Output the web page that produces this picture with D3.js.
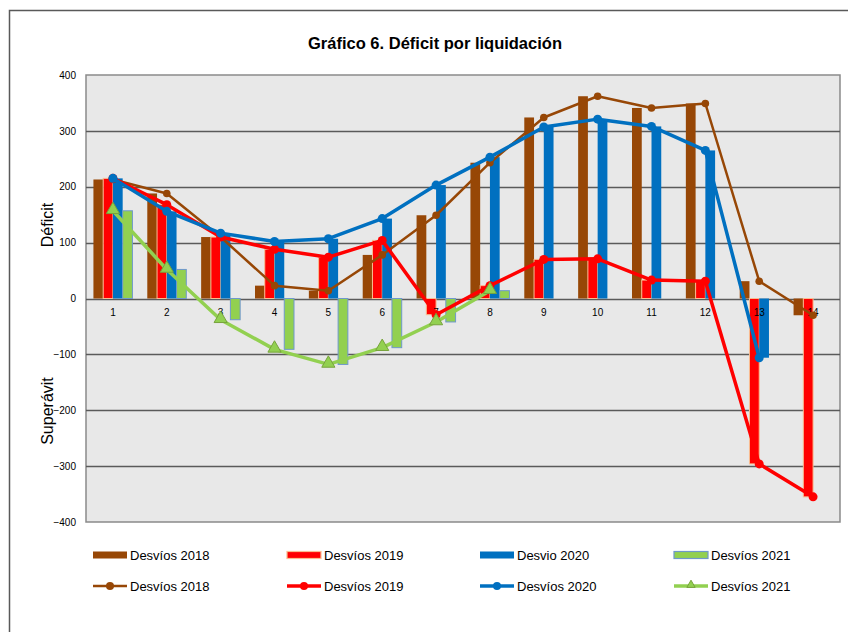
<!DOCTYPE html>
<html>
<head>
<meta charset="utf-8">
<script src="https://cdn.jsdelivr.net/npm/d3@7/dist/d3.min.js"></script>
<style>
  body { margin: 0; background: #fff; }
  text { font-family: "Liberation Sans", Arial, sans-serif; fill: #000; }
</style>
</head>
<body>
<div id="chart"></div>
<script>
// data
var categories = [1, 2, 3, 4, 5, 6, 7, 8, 9, 10, 11, 12, 13, 14];
var desvios2018 = [213, 188, 110, 23, 14, 78, 149, 243, 324, 362, 341, 349, 31, -30];
var desvios2019 = [215, 168, 110, 88, 74, 104, -29, 23, 70, 71, 33, 31, -296, -355];
var desvios2020 = [215, 156, 117, 102, 107, 143, 203, 253, 307, 321, 308, 265, -106, null];
var desvios2021 = [157, 52, -38, -91, -118, -88, -42, 14, null, null, null, null, null, null];
var yTicks = [-400, -300, -200, -100, 0, 100, 200, 300, 400];

var series = [
  { key: "2018", barName: "Desvíos 2018", lineName: "Desvíos 2018", values: desvios2018,
    color: "#974706", barStroke: "none", lineWidth: 2.5, marker: "circle", r: 3.8 },
  { key: "2019", barName: "Desvíos 2019", lineName: "Desvíos 2019", values: desvios2019,
    color: "#ff0000", barStroke: "#f9bd91", lineWidth: 3.5, marker: "circle", r: 4.5 },
  { key: "2020", barName: "Desvio 2020", lineName: "Desvíos 2020", values: desvios2020,
    color: "#0070c0", barStroke: "none", lineWidth: 3.5, marker: "circle", r: 4.5 },
  { key: "2021", barName: "Desvíos 2021", lineName: "Desvíos 2021", values: desvios2021,
    color: "#92d050", barStroke: "#6f98cc", lineWidth: 3.5, marker: "triangle", r: 6 }
];

var svgWidth = 848, svgHeight = 632;
var plot = { left: 86, right: 840, top: 75, bottom: 522 };

var svg = d3.select("#chart").append("svg")
  .attr("width", svgWidth)
  .attr("height", svgHeight);

// outer frame
svg.append("rect")
  .attr("x", 9.5).attr("y", 10.5)
  .attr("width", 860).attr("height", 640)
  .attr("fill", "#fff")
  .attr("stroke", "#595959")
  .attr("stroke-width", 1.5);

// title
svg.append("text")
  .attr("x", 435).attr("y", 49)
  .attr("text-anchor", "middle")
  .style("font-size", "16.5px")
  .style("font-weight", "bold")
  .text("Gráfico 6. Déficit por liquidación");

// scales
var x = d3.scaleBand().domain(categories).range([plot.left, plot.right]).padding(0);
var groupW = 39;
var xInner = d3.scaleBand().domain(series.map(s => s.key)).range([0, groupW]);
var y = d3.scaleLinear().domain([-400, 400]).range([plot.bottom, plot.top]);

// plot background
svg.append("rect")
  .attr("x", plot.left).attr("y", plot.top)
  .attr("width", plot.right - plot.left).attr("height", plot.bottom - plot.top)
  .attr("fill", "#e8e8e8")
  .attr("stroke", "#8a8a8a")
  .attr("stroke-width", 1.5);

// gridlines
svg.append("g").selectAll("line")
  .data(yTicks.filter(t => t !== 400 && t !== -400))
  .enter().append("line")
  .attr("x1", plot.left).attr("x2", plot.right)
  .attr("y1", d => Math.round(y(d)) + 0.5).attr("y2", d => Math.round(y(d)) + 0.5)
  .attr("stroke", "#5a5a5a")
  .attr("stroke-width", 1.3);

// y axis labels
var yAxis = svg.append("g")
  .attr("transform", `translate(${plot.left - 10}, 0)`)
  .call(d3.axisLeft(y).tickValues(yTicks).tickSize(0).tickPadding(0));
yAxis.select(".domain").remove();
yAxis.selectAll("text")
  .style("font-family", "'Liberation Sans', Arial, sans-serif")
  .style("font-size", "10px")
  .attr("fill", "#000");

// y titles
svg.append("text")
  .attr("transform", "translate(53, 225) rotate(-90)")
  .attr("text-anchor", "middle")
  .style("font-size", "16px")
  .text("Déficit");
svg.append("text")
  .attr("transform", "translate(53, 411) rotate(-90)")
  .attr("text-anchor", "middle")
  .style("font-size", "16px")
  .text("Superávit");

// bars
series.forEach(function(s) {
  svg.append("g").selectAll("rect")
    .data(categories.map((c, i) => ({ c: c, v: s.values[i] })).filter(d => d.v !== null))
    .enter().append("rect")
    .attr("x", d => x(d.c) + (x.bandwidth() - groupW) / 2 + xInner(s.key))
    .attr("y", d => y(Math.max(0, d.v)))
    .attr("width", xInner.bandwidth())
    .attr("height", d => Math.abs(y(d.v) - y(0)))
    .attr("fill", s.color)
    .attr("stroke", s.barStroke)
    .attr("stroke-width", 1);
});

// category labels under the zero line
var xAxis = svg.append("g")
  .attr("transform", `translate(0, ${y(0)})`)
  .call(d3.axisBottom(x).tickSize(0).tickPadding(10));
xAxis.select(".domain").remove();
xAxis.selectAll("text")
  .style("font-family", "'Liberation Sans', Arial, sans-serif")
  .style("font-size", "10px")
  .attr("fill", "#000");

// lines
var line = d3.line()
  .defined(d => d.v !== null)
  .x(d => x(d.c) + x.bandwidth() / 2)
  .y(d => y(d.v));

var triangle = d3.symbol().type(d3.symbolTriangle).size(75);

series.forEach(function(s) {
  var pts = categories.map((c, i) => ({ c: c, v: s.values[i] }));
  svg.append("path")
    .datum(pts)
    .attr("d", line)
    .attr("fill", "none")
    .attr("stroke", s.color)
    .attr("stroke-width", s.lineWidth)
    .attr("stroke-linejoin", "round");
  var g = svg.append("g");
  var valid = pts.filter(d => d.v !== null);
  if (s.marker === "circle") {
    g.selectAll("circle").data(valid).enter().append("circle")
      .attr("cx", d => x(d.c) + x.bandwidth() / 2)
      .attr("cy", d => y(d.v))
      .attr("r", s.r)
      .attr("fill", s.color);
  } else {
    g.selectAll("path").data(valid).enter().append("path")
      .attr("d", triangle)
      .attr("transform", d => `translate(${x(d.c) + x.bandwidth() / 2}, ${y(d.v) - 1})`)
      .attr("fill", s.color)
      .attr("stroke", "#77a33c")
      .attr("stroke-width", 1);
  }
});

// legend
var legendX = [93, 287, 480, 674];
var legend = svg.append("g");
series.forEach(function(s, i) {
  var lx = legendX[i];
  // bar entry
  legend.append("rect")
    .attr("x", lx).attr("y", 551.5)
    .attr("width", 34).attr("height", 7)
    .attr("fill", s.color)
    .attr("stroke", s.barStroke)
    .attr("stroke-width", 1.2);
  legend.append("text")
    .attr("x", lx + 37).attr("y", 559.5)
    .style("font-size", "13px")
    .text(s.barName);
  // line entry
  legend.append("line")
    .attr("x1", lx).attr("x2", lx + 34)
    .attr("y1", 586).attr("y2", 586)
    .attr("stroke", s.color)
    .attr("stroke-width", s.lineWidth);
  if (s.marker === "circle") {
    legend.append("circle")
      .attr("cx", lx + 17).attr("cy", 586).attr("r", 4)
      .attr("fill", s.color);
  } else {
    legend.append("path")
      .attr("d", d3.symbol().type(d3.symbolTriangle).size(30))
      .attr("transform", `translate(${lx + 17}, 585)`)
      .attr("fill", s.color)
      .attr("stroke", "#77a33c")
      .attr("stroke-width", 1);
  }
  legend.append("text")
    .attr("x", lx + 37).attr("y", 590.5)
    .style("font-size", "13px")
    .text(s.lineName);
});
</script>
</body>
</html>
